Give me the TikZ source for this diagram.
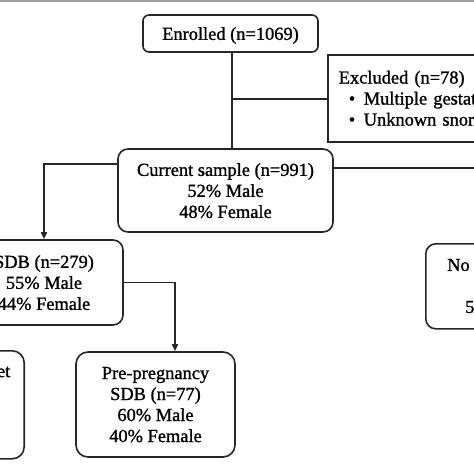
\documentclass[tikz,border=0pt]{standalone}
\usepackage{fontspec}
\setmainfont{Liberation Serif}[FakeBold=1.2]
\usetikzlibrary{arrows.meta}
\begin{document}
\begin{tikzpicture}[x=1pt,y=-1pt,
  txt/.style={font=\fontsize{18.4}{21}\selectfont},
  rbox/.style={draw=black!85,line width=1.6pt,rounded corners=10pt,txt,align=center,inner sep=0pt,text depth=-3pt},
  sbox/.style={draw=black!85,line width=1.6pt,txt,inner sep=0pt},
  conn/.style={draw=black!85,line width=1.6pt},
  arr/.style={conn,-{Triangle[length=7pt,width=6pt]}}]
\useasboundingbox (0,0) rectangle (474,474);
\clip (0,0) rectangle (474,474);
\fill[fill=black!38] (0,0) rectangle (474,2.3);
% boxes
\node[rbox,rounded corners=6pt,minimum width=175pt,minimum height=37pt] (enr) at (230.5,33.5) {Enrolled (n=1069)};
\node[sbox,anchor=north west,minimum height=87pt,text width=200pt,inner xsep=11pt,align=left] (exc) at (327,54)
  {Excluded (n=78)\\\hspace*{10pt}\makebox[15pt][l]{•}Multiple gestat\\\hspace*{10pt}\makebox[15pt][l]{•}Unknown snor};
\node[rbox,minimum width=215pt,minimum height=83pt] (cur) at (225.5,190.5) {Current sample (n=991)\\52\% Male\\48\% Female};
\node[rbox,minimum width=158pt,minimum height=85pt] (sdb) at (44,282.5) {SDB (n=279)\\55\% Male\\44\% Female};
\node[rbox,minimum width=159pt,minimum height=105pt,rounded corners=12pt] (pre) at (155.5,404.5) {Pre-pregnancy\\SDB (n=77)\\60\% Male\\40\% Female};
\node[rbox,anchor=north east,minimum width=150pt,minimum height=108pt,rounded corners=12pt] (lft) at (25,350) {};
\node[txt,anchor=east,inner sep=0pt] (lfttxt) at (10.5,372) {et};
\node[rbox,anchor=north west,minimum width=150pt,minimum height=85pt] (nob) at (425,243) {};
\node[txt,anchor=west,inner sep=0pt] (notxt) at (447,265) {No};
\node[txt,anchor=west,inner sep=0pt] (fivetxt) at (465,307) {5};
% connectors
\coordinate (e1) at (232,52);
\coordinate (e2) at (232,99);
\coordinate (c1) at (118,164);
\coordinate (c2) at (333,168);
\coordinate (c3) at (490,168);
\coordinate (px) at (175,0);
\draw[conn] (e1) -- (e1 |- cur.north);
\draw[conn] (e2) -- (e2 -| exc.west);
\draw[arr] (c1) -| (sdb.north);
\draw[conn] (c2) -- (c3);
\draw[arr] (sdb.east) -| (px |- pre.north);
\end{tikzpicture}
\end{document}
